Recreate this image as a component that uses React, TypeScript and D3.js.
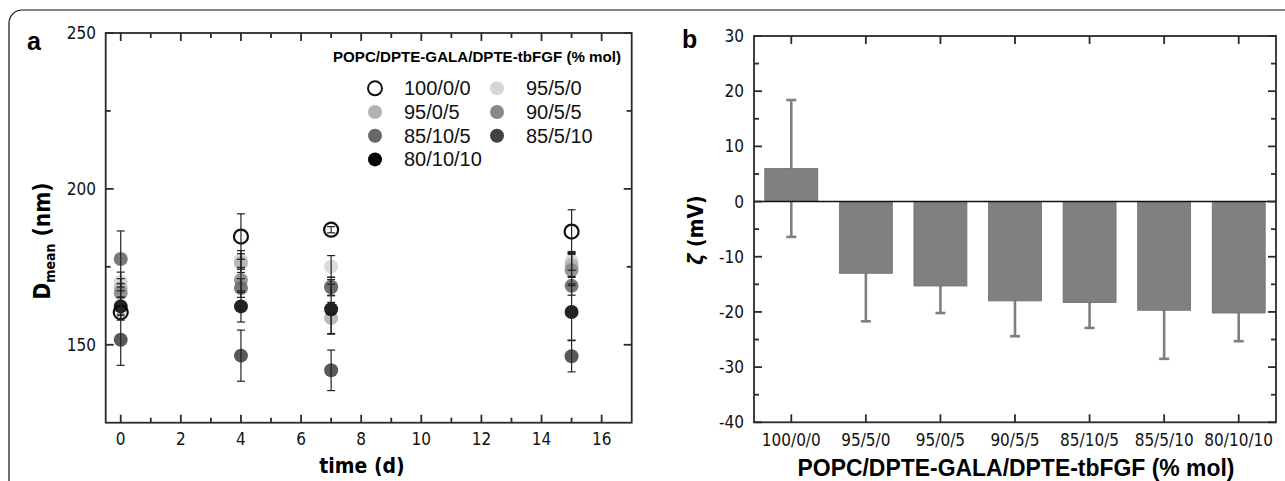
import React from 'react'
import * as d3 from 'd3'

// composition labels (POPC/DPTE-GALA/DPTE-tbFGF, % mol)
const compositions = ['100/0/0', '95/5/0', '95/0/5', '90/5/5', '85/10/5', '85/5/10', '80/10/10']
const shades = ['#ffffff', '#d6d6d6', '#b2b2b2', '#888888', '#676767', '#424242', '#050505']

// panel a: mean diameter over time
const days = [0, 4, 7, 15]
const dMean100 = [160.4, 184.7, 186.9, 186.3]
const dMean95_5_0 = [170.3, 177.2, 175.1, 176.9]
const dMean95_0_5 = [168.2, 176.2, 158.6, 175.6]
const dMean90 = [166.6, 170.8, 168.7, 174.0]
const dMean85_10_5 = [177.5, 168.2, 168.4, 168.9]
const dMean85_5_10 = [151.6, 146.5, 141.8, 146.3]
const dMean80 = [162.3, 162.3, 161.4, 160.5]
const sd100 = [2.5, 7.3, 1.0, 7.0]
const sd95_5_0 = [3.0, 3.0, 3.5, 3.0]
const sd95_0_5 = [3.0, 3.0, 5.0, 4.0]
const sd90 = [3.0, 4.0, 3.0, 5.0]
const sd85_10_5 = [9.0, 3.0, 2.5, 3.0]
const sd85_5_10 = [8.2, 8.2, 6.5, 5.0]
const sd80 = [3.0, 5.0, 8.0, 9.0]
const dMeans = [dMean100, dMean95_5_0, dMean95_0_5, dMean90, dMean85_10_5, dMean85_5_10, dMean80]
const dSds = [sd100, sd95_5_0, sd95_0_5, sd90, sd85_10_5, sd85_5_10, sd80]

const xTicksA = [0, 2, 4, 6, 8, 10, 12, 14, 16]
const xMinorA = [1, 3, 5, 7, 9, 11, 13, 15]
const yTicksA = [150, 200, 250]
const yMinorA = [175, 225]

// panel b: zeta potential
const zeta = [6.0, -13.0, -15.3, -18.0, -18.3, -19.7, -20.2]
const zetaSd = [12.4, 8.7, 4.9, 6.4, 4.6, 8.8, 5.1]
const yTicksB = [-40, -30, -20, -10, 0, 10, 20, 30]
const yMinorB = [-35, -25, -15, -5, 5, 15, 25]

const frameColor = '#2b2b2b'
const tickFont = '"DejaVu Sans Condensed", "DejaVu Sans", sans-serif'
const boldFont = '"DejaVu Sans Condensed", "DejaVu Sans", sans-serif'
const arial = '"Liberation Sans", Arial, sans-serif'

const App = () => {
  const xA = d3.scaleLinear().domain([-0.5, 17]).range([105.7, 631.7])
  const yA = d3.scaleLinear().domain([125, 250]).range([422.7, 33])
  const xB = d3.scaleBand().domain(compositions).range([754, 1276]).paddingInner(0.29).paddingOuter(0.145)
  const yB = d3.scaleLinear().domain([-40, 30]).range([422.3, 36])

  const [ax0, ax1] = xA.range()
  const [ay0, ay1] = yA.range()
  const [bx0, bx1] = xB.range()
  const [by0, by1] = yB.range()
  const cap = 4
  const capB = 5

  return (
    <svg width={1285} height={481} style={{ position: 'absolute', left: 0, top: 0, background: '#fff' }}>
      {/* outer figure frame */}
      <rect x={9} y={10} width={1300} height={500} rx={13} fill="none" stroke="#111" strokeWidth={1.2} />

      {/* ---------- panel a ---------- */}
      <text x={27} y={50} fontFamily={arial} fontWeight="bold" fontSize={25}>a</text>
      <g stroke={frameColor} strokeWidth={1.8}>
        <rect x={ax0} y={ay1} width={ax1 - ax0} height={ay0 - ay1} fill="none" />
        {xTicksA.map((t) => (
          <g key={'xa' + t}>
            <line x1={xA(t)} x2={xA(t)} y1={ay0} y2={ay0 - 8} />
            <line x1={xA(t)} x2={xA(t)} y1={ay1} y2={ay1 + 8} />
          </g>
        ))}
        {xMinorA.map((t) => (
          <g key={'xam' + t}>
            <line x1={xA(t)} x2={xA(t)} y1={ay0} y2={ay0 - 5} />
            <line x1={xA(t)} x2={xA(t)} y1={ay1} y2={ay1 + 5} />
          </g>
        ))}
        {yTicksA.map((t) => (
          <g key={'ya' + t}>
            <line x1={ax0} x2={ax0 + 8} y1={yA(t)} y2={yA(t)} />
            <line x1={ax1} x2={ax1 - 8} y1={yA(t)} y2={yA(t)} />
          </g>
        ))}
        {yMinorA.map((t) => (
          <g key={'yam' + t}>
            <line x1={ax0} x2={ax0 + 5} y1={yA(t)} y2={yA(t)} />
            <line x1={ax1} x2={ax1 - 5} y1={yA(t)} y2={yA(t)} />
          </g>
        ))}
      </g>
      <g fontFamily={tickFont} fontSize={17} fill="#111">
        {xTicksA.map((t) => (
          <text key={'xl' + t} x={xA(t)} y={445} textAnchor="middle">{t}</text>
        ))}
        {yTicksA.map((t) => (
          <text key={'yl' + t} x={96} y={yA(t)} textAnchor="end" dominantBaseline="central">{t}</text>
        ))}
      </g>
      <text x={362} y={473} textAnchor="middle" fontFamily={boldFont} fontWeight="bold" fontSize={21}>time (d)</text>
      <text transform="translate(50,241) rotate(-90)" textAnchor="middle" fontFamily={boldFont} fontWeight="bold" fontSize={22.5}>
        D<tspan fontSize={14} dy={5}>mean</tspan>
        <tspan dy={-5}> (nm)</tspan>
      </text>

      {/* markers */}
      {dMeans.map((vals, si) =>
        vals.map((v, i) => (
          <circle
            key={'p' + si + '-' + i}
            cx={xA(days[i])}
            cy={yA(v)}
            r={7}
            fill={shades[si]}
            fillOpacity={si === 0 ? 0 : 0.88}
            stroke={si === 0 ? '#111' : 'none'}
            strokeWidth={2.2}
          />
        ))
      )}
      {/* error bars */}
      <g stroke="#222" strokeWidth={1.2}>
        {dMeans.map((vals, si) =>
          vals.map((v, i) => {
            const x = xA(days[i])
            const lo = yA(v - dSds[si][i])
            const hi = yA(v + dSds[si][i])
            return (
              <g key={'e' + si + '-' + i}>
                <line x1={x} x2={x} y1={lo} y2={hi} />
                <line x1={x - cap} x2={x + cap} y1={lo} y2={lo} />
                <line x1={x - cap} x2={x + cap} y1={hi} y2={hi} />
              </g>
            )
          })
        )}
      </g>

      {/* legend */}
      <text x={477} y={62} textAnchor="middle" fontFamily={arial} fontWeight="bold" fontSize={15.5}
        textLength={288} lengthAdjust="spacingAndGlyphs">
        POPC/DPTE-GALA/DPTE-tbFGF (% mol)
      </text>
      {compositions.map((c, i) => {
        const col = i % 2
        const row = Math.floor(i / 2)
        const cx = col === 0 ? 375 : 497
        const cy = 88.3 + row * 23.7
        return (
          <g key={'lg' + c}>
            <circle
              cx={cx}
              cy={cy}
              r={7}
              fill={shades[i]}
              stroke={i === 0 ? '#111' : 'none'}
              strokeWidth={2}
            />
            <text x={cx + 29} y={cy} dominantBaseline="central" fontFamily={arial} fontSize={20} fill="#111">
              {c}
            </text>
          </g>
        )
      })}

      {/* ---------- panel b ---------- */}
      <text x={682} y={48} fontFamily={arial} fontWeight="bold" fontSize={25}>b</text>

      {/* error bars behind the bars */}
      <g stroke="#7f7f7f" strokeWidth={2.6}>
        {compositions.map((c, i) => {
          const x = (xB(c) ?? 0) + xB.bandwidth() / 2
          const lo = yB(zeta[i] - zetaSd[i])
          const hi = yB(zeta[i] + zetaSd[i])
          return (
            <g key={'be' + c}>
              <line x1={x} x2={x} y1={lo} y2={hi} />
              <line x1={x - capB} x2={x + capB} y1={lo} y2={lo} />
              <line x1={x - capB} x2={x + capB} y1={hi} y2={hi} />
            </g>
          )
        })}
      </g>
      {compositions.map((c, i) => (
        <rect
          key={'bar' + c}
          x={xB(c)}
          y={yB(Math.max(0, zeta[i]))}
          width={xB.bandwidth()}
          height={Math.abs(yB(zeta[i]) - yB(0))}
          fill="#808080"
          stroke="#6e6e6e"
          strokeWidth={0.8}
        />
      ))}
      <line x1={bx0} x2={bx1} y1={yB(0)} y2={yB(0)} stroke="#111" strokeWidth={1.6} />

      <g stroke={frameColor} strokeWidth={1.8}>
        <rect x={bx0} y={by1} width={bx1 - bx0} height={by0 - by1} fill="none" />
        {compositions.map((c) => {
          const x = (xB(c) ?? 0) + xB.bandwidth() / 2
          return (
            <g key={'bt' + c}>
              <line x1={x} x2={x} y1={by0} y2={by0 - 8} />
              <line x1={x} x2={x} y1={by1} y2={by1 + 8} />
            </g>
          )
        })}
        {yTicksB.map((t) => (
          <g key={'yb' + t}>
            <line x1={bx0} x2={bx0 + 8} y1={yB(t)} y2={yB(t)} />
            <line x1={bx1} x2={bx1 - 8} y1={yB(t)} y2={yB(t)} />
          </g>
        ))}
        {yMinorB.map((t) => (
          <g key={'ybm' + t}>
            <line x1={bx0} x2={bx0 + 5} y1={yB(t)} y2={yB(t)} />
            <line x1={bx1} x2={bx1 - 5} y1={yB(t)} y2={yB(t)} />
          </g>
        ))}
      </g>
      <g fontFamily={tickFont} fontSize={17} fill="#111">
        {compositions.map((c) => (
          <text key={'bl' + c} x={(xB(c) ?? 0) + xB.bandwidth() / 2} y={446} textAnchor="middle">{c}</text>
        ))}
        {yTicksB.map((t) => (
          <text key={'ybl' + t} x={744} y={yB(t)} textAnchor="end" dominantBaseline="central">{t}</text>
        ))}
      </g>
      <text x={1016} y={476} textAnchor="middle" fontFamily={arial} fontWeight="bold" fontSize={23}
        textLength={437} lengthAdjust="spacingAndGlyphs">
        POPC/DPTE-GALA/DPTE-tbFGF (% mol)
      </text>
      <text transform="translate(703,230) rotate(-90)" textAnchor="middle" fontFamily={boldFont} fontWeight="bold" fontSize={21}>
        <tspan fontStyle="italic">ζ</tspan> (mV)
      </text>
    </svg>
  )
}

export default App
